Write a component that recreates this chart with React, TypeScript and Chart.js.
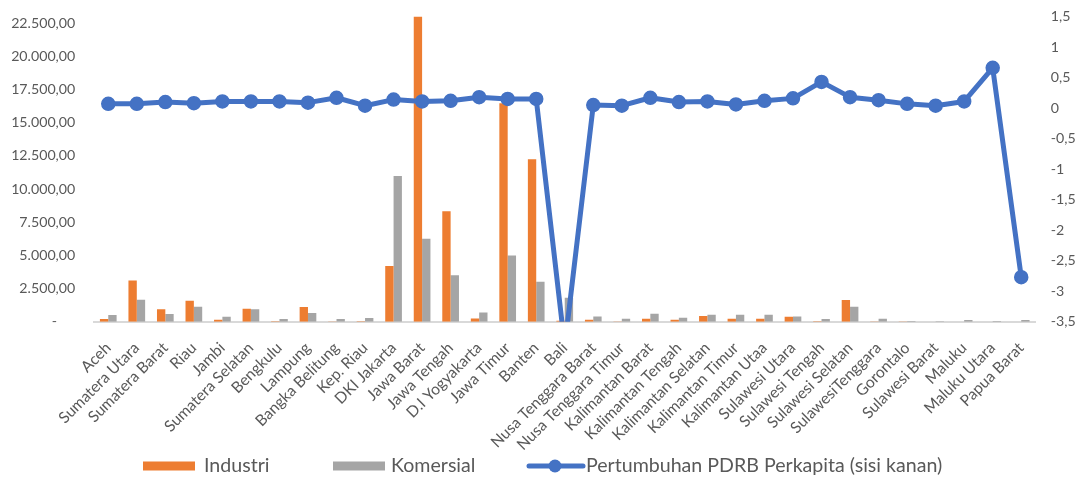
import React, { useEffect, useRef } from 'react';
import { Chart, registerables } from 'chart.js';

Chart.register(...registerables);

const categories = [
  'Aceh', 'Sumatera Utara', 'Sumatera Barat', 'Riau', 'Jambi', 'Sumatera Selatan', 'Bengkulu',
  'Lampung', 'Bangka Belitung', 'Kep. Riau', 'DKI Jakarta', 'Jawa Barat', 'Jawa Tengah',
  'D.I Yogyakarta', 'Jawa Timur', 'Banten', 'Bali', 'Nusa Tenggara Barat', 'Nusa Tenggara Timur',
  'Kalimantan Barat', 'Kalimantan Tengah', 'Kalimantan Selatan', 'Kalimantan Timur',
  'Kalimantan Utaa', 'Sulawesi Utara', 'Sulawesi Tengah', 'Sulawesi Selatan', 'SulawesiTenggara',
  'Gorontalo', 'Sulawesi Barat', 'Maluku', 'Maluku Utara', 'Papua Barat',
];

const industri = [
  200, 3100, 930, 1580, 150, 980, 30, 1100, 20, 30, 4190, 23000, 8330, 250, 16460, 12240, 80,
  150, 20, 225, 150, 430, 225, 225, 380, 30, 1630, 20, 10, 5, 5, 5, 5,
];

const komersial = [
  500, 1660, 580, 1130, 380, 930, 200, 650, 200, 280, 10990, 6250, 3510, 700, 4990, 3010, 1800,
  400, 225, 600, 300, 530, 530, 530, 400, 200, 1130, 225, 60, 30, 120, 60, 120,
];

const pertumbuhan = [
  0.07, 0.07, 0.1, 0.08, 0.11, 0.11, 0.11, 0.09, 0.17, 0.04, 0.14, 0.11, 0.12, 0.18, 0.15, 0.15,
  -3.9, 0.05, 0.04, 0.17, 0.1, 0.11, 0.06, 0.12, 0.16, 0.43, 0.18, 0.13, 0.07, 0.04, 0.11, 0.66,
  -2.77,
];

const seriesNames = ['Industri', 'Komersial', 'Pertumbuhan PDRB Perkapita (sisi kanan)'];

const leftTickValues = [0, 2500, 5000, 7500, 10000, 12500, 15000, 17500, 20000, 22500];
const leftMin = 0;
const leftMax = 23000;
const rightMin = -3.5;
const rightMax = 1.5;
const rightStep = 0.5;

const ORANGE = '#ED7D31';
const GRAY = '#A5A5A5';
const BLUE = '#4472C4';
const TEXT = '#595959';
const FONT = 'Lato';

function fmtLeft(v: number): string {
  if (Math.abs(v) < 1e-9) return '-     ';
  const s = Math.round(v).toString().replace(/\B(?=(\d{3})+(?!\d))/g, '.');
  return s + ',00';
}

function fmtRight(v: number): string {
  const r = Math.round(v * 10) / 10;
  return String(r).replace('.', ',');
}

const legendPlugin = {
  id: 'customLegend',
  afterDraw(chart: any) {
    const ctx = chart.ctx as CanvasRenderingContext2D;
    ctx.save();
    ctx.font = `19.6px ${FONT}`;
    ctx.textBaseline = 'middle';
    ctx.textAlign = 'left';
    const y = 466;
    const x0 = chart.width / 2 - 396;
    const starts = [0, 190, 384];
    ctx.fillStyle = ORANGE;
    ctx.fillRect(x0 + starts[0], y - 4.5, 52, 9);
    ctx.fillStyle = TEXT;
    ctx.fillText(seriesNames[0], x0 + starts[0] + 61, y);
    ctx.fillStyle = GRAY;
    ctx.fillRect(x0 + starts[1], y - 4.5, 52, 9);
    ctx.fillStyle = TEXT;
    ctx.fillText(seriesNames[1], x0 + starts[1] + 58, y);
    const lx = x0 + starts[2];
    ctx.strokeStyle = BLUE;
    ctx.lineWidth = 5;
    ctx.lineCap = 'round';
    ctx.beginPath();
    ctx.moveTo(lx + 2, y);
    ctx.lineTo(lx + 56, y);
    ctx.stroke();
    ctx.fillStyle = BLUE;
    ctx.beginPath();
    ctx.arc(lx + 28, y, 6.5, 0, Math.PI * 2);
    ctx.fill();
    ctx.fillStyle = TEXT;
    ctx.fillText(seriesNames[2], lx + 59, y);
    ctx.restore();
  },
};

export default function App() {
  const canvasRef = useRef<HTMLCanvasElement | null>(null);

  useEffect(() => {
    if (!canvasRef.current) return;
    const chart = new Chart(canvasRef.current, {
      type: 'bar',
      data: {
        labels: categories,
        datasets: [
          {
            type: 'line',
            label: seriesNames[2],
            data: pertumbuhan,
            yAxisID: 'y1',
            borderColor: BLUE,
            backgroundColor: BLUE,
            borderWidth: 5,
            pointRadius: 6.5,
            pointBorderWidth: 1.5,
            pointBackgroundColor: BLUE,
            pointBorderColor: BLUE,
            borderJoinStyle: 'round',
            borderCapStyle: 'round',
            tension: 0,
            order: 0,
          } as any,
          {
            type: 'bar',
            label: seriesNames[0],
            data: industri,
            yAxisID: 'y',
            backgroundColor: ORANGE,
            categoryPercentage: 0.585,
            barPercentage: 1,
            order: 1,
          },
          {
            type: 'bar',
            label: seriesNames[1],
            data: komersial,
            yAxisID: 'y',
            backgroundColor: GRAY,
            categoryPercentage: 0.585,
            barPercentage: 1,
            order: 1,
          },
        ],
      },
      options: {
        responsive: false,
        animation: false,
        layout: { padding: { top: 16.6, left: 0, right: 0, bottom: 0 } },
        plugins: {
          legend: { display: false },
          tooltip: { enabled: false },
          title: { display: false },
        },
        scales: {
          x: {
            grid: { display: false },
            border: { display: true, color: '#D9D9D9', width: 2 },
            ticks: {
              autoSkip: false,
              maxRotation: 45,
              minRotation: 45,
              padding: 9,
              color: TEXT,
              font: { family: FONT, size: 15.6 },
            },
            afterFit: (scale: any) => {
              scale.height = 155.3;
            },
          },
          y: {
            position: 'left',
            min: leftMin,
            max: leftMax,
            grid: { display: false },
            border: { display: false },
            ticks: {
              padding: 10.7,
              color: TEXT,
              font: { family: FONT, size: 14.2 },
              callback: (v: any) => fmtLeft(Number(v)),
            },
            afterBuildTicks: (scale: any) => {
              scale.ticks = leftTickValues.map((value) => ({ value }));
            },
            afterFit: (scale: any) => {
              scale.width = 94;
              scale.paddingTop = 0;
              scale.paddingBottom = 0;
            },
          },
          y1: {
            position: 'right',
            min: rightMin,
            max: rightMax,
            grid: { display: false },
            border: { display: false },
            ticks: {
              stepSize: rightStep,
              padding: 7.2,
              color: TEXT,
              font: { family: FONT, size: 14.2 },
              callback: (v: any) => fmtRight(Number(v)),
            },
            afterFit: (scale: any) => {
              scale.width = 42.5;
              scale.paddingTop = 0;
              scale.paddingBottom = 0;
            },
          },
        },
      },
      plugins: [legendPlugin],
    });
    return () => chart.destroy();
  }, []);

  return (
    <div style={{ position: 'fixed', left: 0, top: 0, width: 1078, height: 477, background: '#fff' }}>
      <canvas ref={canvasRef} width={1078} height={477} style={{ display: 'block' }} />
    </div>
  );
}
